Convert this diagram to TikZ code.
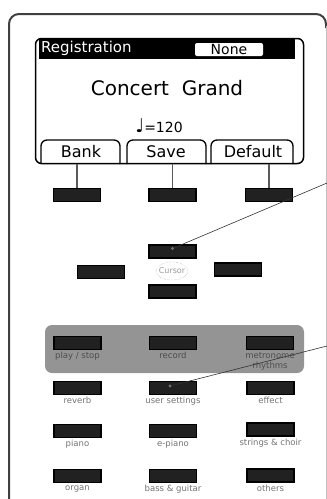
\documentclass[tikz,border=0pt]{standalone}
\usepackage{fontspec}
\setmainfont{DejaVu Sans}
\usetikzlibrary{positioning}
\definecolor{panel_gray}{gray}{0.58}
\definecolor{key_black}{gray}{0.13}
\definecolor{label_gray}{gray}{0.45}

\begin{document}
\begin{tikzpicture}[x=1pt, y=-1pt]
	\tikzset{
		key/.style={draw=black, fill=key_black, line width=1.2pt, minimum width=47pt, minimum height=13pt, inner sep=0pt}, % the push buttons
		lbl/.style={below=2pt of #1, inner sep=0pt, align=center, font=\fontsize{8.5}{10}\selectfont, text=label_gray}, % print under a button
		tab/.style={line width=1.3pt, rounded corners=6pt}, % soft key tabs on the display
		stem/.style={draw=black!65, line width=1.5pt}, % from tab down to its button
		pointer/.style={draw=black!80, line width=0.6pt},
	}
	\tikzstyle{lcdtext} = [inner sep=0pt]
	\useasboundingbox (0,0) rectangle (327,499);

	% front panel outline
	\draw[black!75, line width=2pt, rounded corners=10pt] (9,499) -- (9,14) -- (326,14) -- (326,28);
	\draw[black!25, line width=0.8pt] (326,26) -- (326,499);

	% display
	\node[draw, line width=1.5pt, rounded corners=6pt, minimum width=268pt, minimum height=125pt, inner sep=0pt] (lcd) at (169.5,101) {};
	\fill (39,39) rectangle (295,59);
	\node[lcdtext, anchor=base west, text=white, font=\fontsize{15}{18}\selectfont] (title) at (41,52) {Registration};
	\node[lcdtext, fill=white, rounded corners=2pt, minimum width=68pt, minimum height=13pt, font=\fontsize{14}{16}\selectfont] (none) at (229,49.5) {None};
	\node[lcdtext, font=\fontsize{20}{24}\selectfont] (voice) at (167,88) {Concert\ \ Grand};
	\node[lcdtext, anchor=base, font=\fontsize{14}{16}\selectfont] (tempo) at (159,132) {{\fontsize{19}{19}\selectfont ♩}=120};

	% soft key tabs
	\draw[tab] (41,164) -- (41,140) -- (120,140) -- (120,164);
	\draw[tab] (127,164) -- (127,140) -- (206,140) -- (206,164);
	\draw[tab] (211,164) -- (211,140) -- (293,140) -- (293,164);
	\node[lcdtext, anchor=base, font=\fontsize{16}{18}\selectfont] (bank) at (81,157) {Bank};
	\node[lcdtext, anchor=base, font=\fontsize{16}{18}\selectfont] (save) at (166,157) {Save};
	\node[lcdtext, anchor=base, font=\fontsize{16}{18}\selectfont] (default) at (253,157) {Default};

	% buttons under the display
	\node[key] (kBank) at (77,195) {};
	\node[key] (kSave) at (172.5,195) {};
	\node[key] (kDefault) at (269,195) {};
	\draw[stem] (kBank.north) -- (kBank.north |- lcd.south);
	\draw[stem] (kSave.north) -- (kSave.north |- lcd.south);
	\draw[stem] (kDefault.north) -- (kDefault.north |- lcd.south);

	% cursor block
	\node[key] (kUp) at (172.5,251.5) {};
	\node[key] (kLeft) at (101,272) {};
	\node[key] (kRight) at (238,269.5) {};
	\node[key] (kDown) at (172.5,291.5) {};
	\node[inner sep=0pt, font=\fontsize{8}{9}\selectfont, text=black!40] (cursor) at (172,271) {Cursor};
	\draw[black!35, densely dotted] (cursor) ellipse (16pt and 9pt);

	% transport group
	\fill[panel_gray, rounded corners=7pt] (45,325) rectangle (304,373);
	\node[key] (kPlay) at (77.5,343) {};
	\node[key] (kRecord) at (173,343) {};
	\node[key] (kMetro) at (270,343) {};
	\node[lbl=kPlay, text=black!70] {play / stop};
	\node[lbl=kRecord, text=black!70] {record};
	\node[lbl=kMetro, text=black!70] {metronome\\rhythms};

	% voice buttons
	\node[key] (kReverb) at (77.5,388) {};
	\node[key] (kUser) at (173,388) {};
	\node[key] (kEffect) at (270.5,388) {};
	\node[lbl=kReverb] {reverb};
	\node[lbl=kUser] {user settings};
	\node[lbl=kEffect] {effect};

	\node[key] (kPiano) at (77.5,431) {};
	\node[key] (kEPiano) at (173,431) {};
	\node[key] (kStrings) at (270.5,429.5) {};
	\node[lbl=kPiano] {piano};
	\node[lbl=kEPiano] {e-piano};
	\node[lbl=kStrings] {strings \& choir};

	\node[key] (kOrgan) at (77.5,476) {};
	\node[key] (kBass) at (173,476) {};
	\node[key] (kOthers) at (270.5,475.5) {};
	\node[lbl=kOrgan] {organ};
	\node[lbl=kBass] {bass \& guitar};
	\node[lbl=kOthers] {others};

	% callout lines
	\coordinate (p1) at (327,183);
	\coordinate (p2) at (327,346);
	\draw[pointer] (p1) -- ([yshift=3pt]kUp.center);
	\draw[pointer] (p2) -- ([shift={(-3pt,2pt)}]kUser.center);
	\fill[black!55] ([yshift=3pt]kUp.center) circle (1.6pt);
	\fill[black!55] ([shift={(-3pt,2pt)}]kUser.center) circle (1.6pt);
\end{tikzpicture}
\end{document}
